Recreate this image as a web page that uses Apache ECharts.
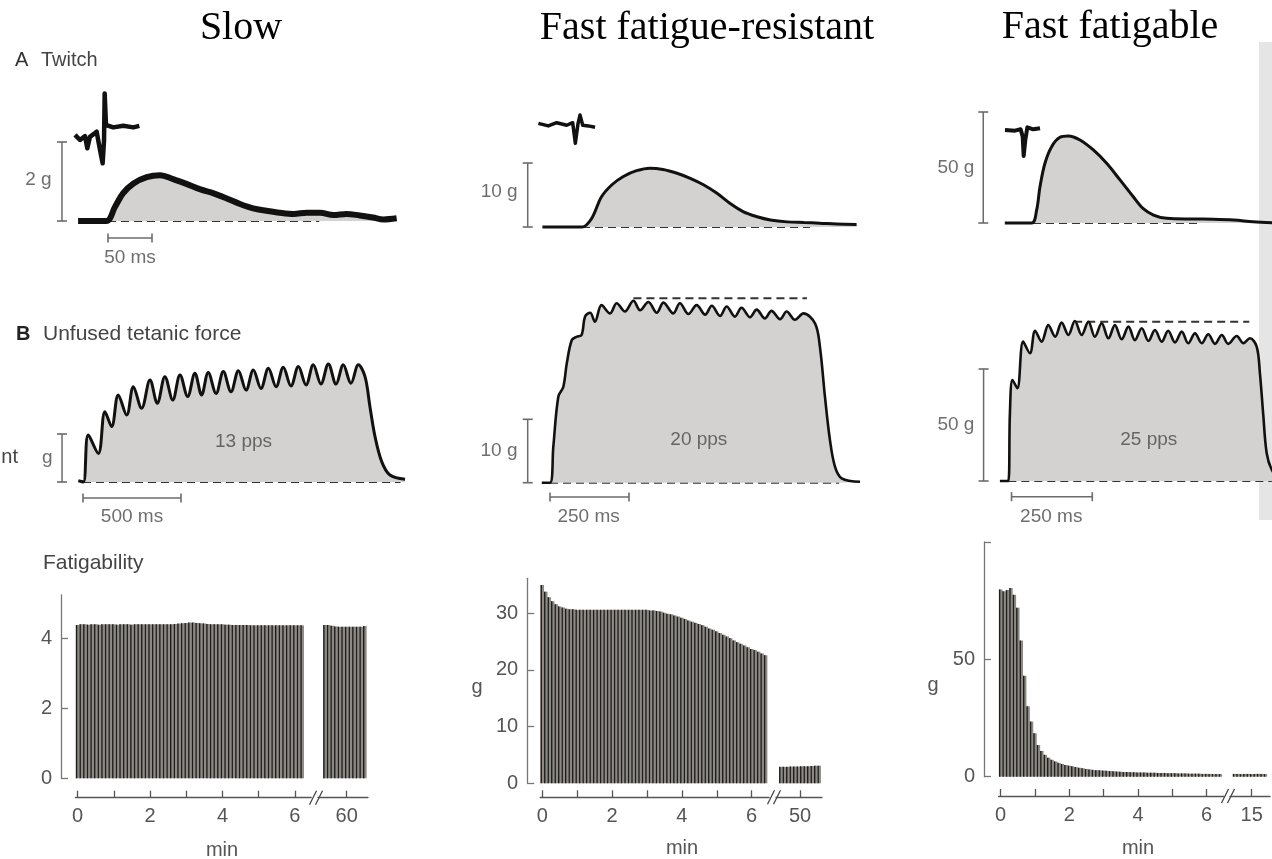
<!DOCTYPE html>
<html>
<head>
<meta charset="utf-8">
<title>Motor unit types</title>
<script src="https://cdn.jsdelivr.net/npm/echarts@6/dist/echarts.min.js"></script>
<style>
  html, body { margin: 0; padding: 0; background: #fff; }
  #main { width: 1272px; height: 859px; }
</style>
</head>
<body>
<div id="main"></div>
<script>
var SANS = '"Liberation Sans", Arial, sans-serif';
var SERIF = '"Liberation Serif", "Times New Roman", serif';

// text
var columnTitles = ['Slow', 'Fast fatigue-resistant', 'Fast fatigable'];
var rateLabels = ['13 pps', '20 pps', '25 pps'];
var twitchScale = ['2 g', '10 g', '50 g'];
var tetanusScale = ['g', '10 g', '50 g'];
var timeLabels = ['50 ms', '500 ms', '250 ms', '250 ms'];

// A - twitch force, [ms, g]
var twitchSlow = [[-34,0],[-2,0],[8,0.36],[17,0.70],[29,0.95],[44,1.11],[59,1.16],[74,1.06],[89,0.94],[105,0.80],[120,0.70],[135,0.57],[150,0.43],[165,0.32],[180,0.26],[195,0.21],[211,0.18],[226,0.21],[241,0.21],[256,0.15],[271,0.18],[286,0.14],[301,0.09],[313,0.04],[328,0.07]];
var twitchFR = [[-45,0],[0,0],[11,1.35],[22,4.7],[34,6.6],[47,7.9],[62,8.8],[77,9.2],[92,9.0],[108,8.4],[123,7.6],[138,6.6],[153,5.3],[168,3.7],[183,2.4],[199,1.6],[214,1.1],[233,0.8],[252,0.7],[270,0.6],[289,0.45],[312,0.4]];
var twitchFF = [[-32,0],[-1.5,0],[4.2,5.9],[8,16.4],[13.6,26.9],[21.2,34.4],[30.7,38.6],[40.2,39.2],[53.4,37.4],[68.6,32.9],[83.7,26.9],[98.9,19.4],[114,11.8],[125,6.6],[137,3.6],[152,2.1],[182,1.8],[205,1.7],[228,1.35],[250,0.6],[272,0.1]];

// action potential insets (same axes as the twitch)
var spikeSlow = [[-37.5,2.18],[-31.8,2.05],[-26.1,2.15],[-23.5,1.84],[-20.5,2.13],[-12.9,2.26],[-9.1,1.80],[-6.1,1.46],[-4.5,2.05],[-3.8,3.23],[-2.3,2.43],[6,2.37],[17.4,2.41],[28.8,2.37],[35.6,2.41]];
var spikeFR = [[-49.6,16.2],[-38.3,15.8],[-28.8,16.3],[-17.4,15.9],[-10.6,16.3],[-7.6,13.1],[-4.5,16.2],[-2.3,17.5],[0.8,15.9],[7.2,15.8],[14.8,15.6]];
var spikeFF = [[-31.8,41.9],[-20.5,41.6],[-14,42.2],[-11.7,38.9],[-10.6,30.2],[-8.7,37.4],[-6.4,43.1],[0.4,42.2],[8,42.7]];

// B - unfused tetanus, [ms, g]
var tetSlow = [[-24,0.05],[2,0],[27,1.96],[78,1.19],[112,2.93],[146,2.31],[180,3.63],[223,2.79],[257,3.97],[299,3.07],[342,4.25],[379,3.28],[418,4.39],[458,3.42],[495,4.46],[534,3.56],[571,4.53],[605,3.63],[639,4.56],[679,3.69],[716,4.60],[755,3.76],[793,4.64],[832,3.83],[869,4.67],[908,3.90],[946,4.74],[985,3.97],[1022,4.78],[1061,4.00],[1099,4.81],[1138,4.04],[1175,4.88],[1214,4.08],[1252,4.92],[1291,4.08],[1328,4.88],[1367,4.11],[1405,4.88],[1439,4.39],[1464,3.14],[1490,1.89],[1524,0.85],[1566,0.29],[1643,0.11]];
var tetFR = [[-26,0],[0,0],[10.5,5.7],[26.4,13.6],[42,15.1],[53,18.8],[69,22.5],[84,23.0],[100,23.3],[111,26.2],[127,26.8],[142,25.4],[163,28.0],[190,26.7],[211,28.3],[237,27.0],[264,28.7],[285,27.2],[311,28.5],[338,26.8],[359,28.4],[390,26.7],[411,28.3],[438,26.6],[464,28.0],[491,26.5],[512,27.9],[538,26.3],[559,27.8],[585,26.2],[606,27.6],[633,26.1],[654,27.3],[680,25.9],[701,27.1],[728,25.8],[749,27.0],[775,25.7],[802,26.7],[839,25.1],[854,21.5],[870,13.6],[886,6.7],[902,2.5],[923,0.7],[981,0.16]];
var tetFF = [[-26,0],[0,0],[5,30.2],[13,45.1],[28,41.4],[46,62.2],[67,57.0],[83,67.1],[103,62.2],[124,69.6],[145,64.4],[165,70.7],[186,65.2],[206,71.4],[227,65.2],[248,71.1],[268,64.4],[289,70.4],[310,63.7],[330,69.6],[351,63.3],[372,68.9],[392,62.9],[413,68.2],[434,62.5],[454,67.4],[475,62.2],[495,67.1],[516,61.9],[537,66.7],[557,61.5],[578,65.9],[599,61.5],[619,65.5],[640,61.2],[661,65.2],[681,61.2],[707,64.7],[728,61.5],[748,63.7],[769,60.0],[779,48.1],[789,30.2],[800,12.4],[816,4.9],[840,1.0]];

// dashed reference lines
var baseTwitch = [[[0,0],[240,0]], [[0,0],[259,0]], [[0,0],[189,0]]];
var baseTetanus = [[[0,0],[1620,0]], [[0,0],[915,0]], [[0,0],[816,0]]];
var peakTetanus = [null, [[264,29.1],[813,29.1]], [[204,71.1],[746,71.1]]];

// scale bars
var twitchForceBar = [[[-52.3,0],[-52.3,2]], [[-61.7,0],[-61.7,10]], [[-56.5,0],[-56.5,50]]];
var tetanusForceBar = [[[-107,0],[-107,2]], [[-70.6,0],[-70.6,10]], [[-76.5,0],[-76.5,50]]];
var twitchTimeBar = [[0,-0.43],[50,-0.43]];
var tetanusTimeBar = [[[0,-0.667],[500,-0.667]], [[0,-2.26],[250,-2.26]], [[10,-7.0],[260,-7.0]]];

// C - fatigability, force of each tetanus (one every 0.1 min)
var step = 0.1;
var fatSlow1 = [4.38,4.40,4.40,4.39,4.40,4.40,4.39,4.40,4.40,4.40,
  4.40,4.39,4.40,4.40,4.40,4.39,4.40,4.40,4.40,4.40,
  4.40,4.40,4.40,4.40,4.40,4.40,4.40,4.41,4.42,4.43,
  4.44,4.45,4.45,4.44,4.43,4.42,4.41,4.40,4.40,4.40,
  4.40,4.39,4.39,4.38,4.38,4.38,4.38,4.38,4.37,4.37,
  4.37,4.37,4.37,4.37,4.37,4.37,4.37,4.37,4.37,4.37,
  4.37,4.37,4.37];
var fatSlow2 = [4.38,4.38,4.36,4.34,4.33,4.33,4.33,4.33,4.33,4.33,4.33,4.35];
var fatFR1 = [35.0,33.8,32.8,32.1,31.6,31.2,31.0,30.8,30.7,30.7,
  30.6,30.6,30.6,30.6,30.6,30.6,30.6,30.6,30.6,30.6,
  30.6,30.6,30.6,30.6,30.6,30.6,30.6,30.6,30.6,30.6,
  30.6,30.5,30.5,30.4,30.3,30.1,29.9,29.8,29.6,29.4,
  29.2,29.0,28.7,28.5,28.3,28.1,27.9,27.6,27.3,27.1,
  26.8,26.5,26.2,25.9,25.6,25.2,24.9,24.6,24.3,24.0,
  23.7,23.5,23.2,22.9,22.6];
var fatFR2 = [3.8,3.8,3.8,3.85,3.85,3.85,3.9,3.9,3.9,3.95,4.0,4.0];
var fatFR2Base = 0.9;
var fatFF1 = [79.8,79.0,79.5,80.4,77.5,72.0,58.0,43.0,30.0,23.5,
  18.5,13.5,11.0,9.3,8.1,7.2,6.5,5.9,5.4,5.0,
  4.7,4.4,4.1,3.8,3.6,3.3,3.1,2.9,2.8,2.7,
  2.6,2.5,2.4,2.3,2.2,2.1,2.0,2.0,1.9,1.9,
  1.8,1.8,1.8,1.7,1.7,1.7,1.6,1.6,1.6,1.5,
  1.5,1.5,1.4,1.4,1.4,1.3,1.3,1.3,1.3,1.2,
  1.2,1.2,1.1,1.1,1.1];
var fatFF2 = [1.2,1.2,1.1,1.2,1.2,1.1,1.2,1.2,1.2,1.1];
var blockStart = {slow: [0, 59.4], fr: [0, 49.45], ff: [0, 14.5]};

// x / y axis ticks for the fatigue panels
var minTicks = [0,1,2,3,4,5,6];
var minLabels = [0,2,4,6];
var lateTick = [60, 50, 15];
var forceTicks = [[0,2,4], [0,10,20,30], [0,50,100]];
var forceLabels = [[0,2,4], [0,10,20,30], [0,50]];

// ---- layout ----
var grids = [
  {left:20, top:85, width:380, height:180},    // 0 A slow
  {left:470, top:95, width:390, height:170},   // 1 A FR
  {left:900, top:95, width:372, height:170},   // 2 A FF
  {left:20, top:300, width:392, height:230},   // 3 B slow
  {left:470, top:285, width:390, height:245},  // 4 B FR
  {left:900, top:285, width:372, height:245},  // 5 B FF
  {left:75.5, top:595, width:235.7, height:183.3}, // 6 C slow
  {left:318, top:595, width:50, height:183.3},     // 7 C slow late
  {left:540.2, top:578.3, width:228.9, height:205},// 8 C FR
  {left:776, top:578.3, width:46, height:205},     // 9 C FR late
  {left:998.6, top:542, width:225.2, height:234.7},// 10 C FF
  {left:1230, top:542, width:40, height:234.7}     // 11 C FF late
];
var xRange = [[-100,331.8],[-127.3,315.9],[-151.1,271.6],[-321.4,1678.6],[-253.2,981],[-335.3,816.4],
  [-0.06,6.45],[59.207,60.588],[-0.06,6.5],[49.312,50.63],[-0.06,6.5],[14.368,15.533]];
var yRange = [[-1.114,3.443],[-5.94,20.63],[-18.92,57.66],[-2.0,7.583],[-7.46,31.18],[-21.87,87.5],
  [0,5.237],[0,5.237],[0,36.16],[0,36.16],[0,100],[0,100]];

var axisGray = '#555';
var xAxes = [], yAxes = [];
grids.forEach(function (g, i) {
  xAxes.push({type:'value', gridIndex:i, min:xRange[i][0], max:xRange[i][1], show:false, splitLine:{show:false}});
  yAxes.push({type:'value', gridIndex:i, min:yRange[i][0], max:yRange[i][1], show:false, splitLine:{show:false}});
});

// visible axes of the fatigue panels
function fatX(i, ticks, labels, offset) {
  xAxes[i] = {type:'value', gridIndex:i, min:xRange[i][0], max:xRange[i][1], offset:offset,
    splitLine:{show:false},
    axisLine:{show:true, onZero:false, lineStyle:{color:axisGray, width:1.3}},
    axisTick:{show:true, inside:true, length:7, customValues:ticks, lineStyle:{color:axisGray, width:1.3}},
    axisLabel:{show:true, customValues:labels, margin:9, color:axisGray, fontSize:20, fontFamily:SANS}};
}
function fatY(i, ticks, labels, offset) {
  yAxes[i] = {type:'value', gridIndex:i, min:yRange[i][0], max:yRange[i][1], offset:offset,
    splitLine:{show:false},
    axisLine:{show:true, onZero:false, lineStyle:{color:'#777', width:1.3}},
    axisTick:{show:true, inside:true, length:7, customValues:ticks, lineStyle:{color:'#777', width:1.3}},
    axisLabel:{show:true, customValues:labels, margin:9, color:axisGray, fontSize:20, fontFamily:SANS}};
}
fatX(6, minTicks, minLabels, 19.4); fatX(7, [lateTick[0]], [lateTick[0]], 19.4);
fatX(8, minTicks, minLabels, 14);   fatX(9, [lateTick[1]], [lateTick[1]], 14);
fatX(10, minTicks, minLabels, 19.3); fatX(11, [lateTick[2]], [lateTick[2]], 19.3);
fatY(6, forceTicks[0], forceLabels[0], 14.5);
fatY(8, forceTicks[1], forceLabels[1], 13);
fatY(10, forceTicks[2], forceLabels[2], 14.6);

// ---- series helpers ----
function trace(gi, data, width, fill) {
  var s = {type:'line', xAxisIndex:gi, yAxisIndex:gi, data:data, smooth:0.35, symbol:'none',
    lineStyle:{color:'#111', width:width}, z:4};
  if (fill) s.areaStyle = {color:'#d4d2d0', opacity:1, origin:0};
  return s;
}
function spike(gi, data, width) {
  return {type:'line', xAxisIndex:gi, yAxisIndex:gi, data:data, symbol:'none',
    lineStyle:{color:'#111', width:width, join:'round'}, z:4};
}
function dashed(gi, data) {
  return {type:'line', xAxisIndex:gi, yAxisIndex:gi, data:data, symbol:'none',
    lineStyle:{color:'#333', width:2, type:[8,5]}, z:3};
}
function scaleBar(gi, data, vertical) {
  return {type:'line', xAxisIndex:gi, yAxisIndex:gi, data:data, symbol:'rect',
    symbolSize: vertical ? [10,1.6] : [1.6,9],
    itemStyle:{color:'#6b6b6b'}, lineStyle:{color:'#6b6b6b', width:1.5}, z:3};
}
function textAt(gi, pt, txt, pos) {
  return {type:'scatter', xAxisIndex:gi, yAxisIndex:gi, data:[pt], symbolSize:1,
    itemStyle:{color:'rgba(0,0,0,0)'},
    label:{show:true, position:pos, distance:4, formatter:txt, color:'#4a4a4a', fontSize:19, fontFamily:SANS}, z:6};
}
function pairs(t0, vals) {
  return vals.map(function (v, i) { return [+(t0 + i * step).toFixed(2), v]; });
}
function bars(gi, t0, vals, pxPerMin, base) {
  var wide = pxPerMin * step;
  var out = [];
  var tops = base ? vals.map(function (v) { return v - base; }) : vals;
  var baseVals = base ? vals.map(function () { return base; }) : null;
  [['n' + gi, 1.4, '#1e1e1e', 5], ['w' + gi, wide, '#8e8983', 4]].forEach(function (b) {
    if (baseVals) {
      out.push({type:'bar', xAxisIndex:gi, yAxisIndex:gi, stack:b[0], barWidth:b[1], barGap:'-100%',
        data:pairs(t0, baseVals), itemStyle:{color:'rgba(0,0,0,0)'}, z:b[3]});
    }
    out.push({type:'bar', xAxisIndex:gi, yAxisIndex:gi, stack: baseVals ? b[0] : null, barWidth:b[1], barGap:'-100%',
      data:pairs(t0, tops), itemStyle:{color:b[2]}, z:b[3]});
  });
  return out;
}

var series = [];
// A
series.push(trace(0, twitchSlow, 6, true), dashed(0, baseTwitch[0]), spike(0, spikeSlow, 4.5),
  scaleBar(0, twitchForceBar[0], true), scaleBar(0, twitchTimeBar, false),
  textAt(0, [-59, 1.04], twitchScale[0], 'left'), textAt(0, [25, -0.94], timeLabels[0], 'inside'));
series.push(trace(1, twitchFR, 3, true), dashed(1, baseTwitch[1]), spike(1, spikeFR, 3.5),
  scaleBar(1, twitchForceBar[1], true), textAt(1, [-68, 5.5], twitchScale[1], 'left'));
series.push(trace(2, twitchFF, 3, true), dashed(2, baseTwitch[2]), spike(2, spikeFF, 4),
  scaleBar(2, twitchForceBar[2], true), textAt(2, [-61.4, 24.8], twitchScale[2], 'left'));
// B
series.push(trace(3, tetSlow, 3, true), dashed(3, baseTetanus[0]),
  scaleBar(3, tetanusForceBar[0], true), scaleBar(3, tetanusTimeBar[0], false),
  textAt(3, [-132.7, 1.0], tetanusScale[0], 'left'), textAt(3, [250, -1.46], timeLabels[1], 'inside'),
  textAt(3, [819, 1.68], rateLabels[0], 'inside'));
series.push(trace(4, tetFR, 2.6, true), dashed(4, baseTetanus[1]), dashed(4, peakTetanus[1]),
  scaleBar(4, tetanusForceBar[1], true), scaleBar(4, tetanusTimeBar[1], false),
  textAt(4, [-88.6, 5.0], tetanusScale[1], 'left'), textAt(4, [122, -5.43], timeLabels[2], 'inside'),
  textAt(4, [471, 6.74], rateLabels[1], 'inside'));
series.push(trace(5, tetFF, 2.6, true), dashed(5, baseTetanus[2]), dashed(5, peakTetanus[2]),
  scaleBar(5, tetanusForceBar[2], true), scaleBar(5, tetanusTimeBar[2], false),
  textAt(5, [-91, 25], tetanusScale[2], 'left'), textAt(5, [133, -16.1], timeLabels[3], 'inside'),
  textAt(5, [435, 18.6], rateLabels[2], 'inside'));
// C
series = series.concat(
  bars(6, blockStart.slow[0], fatSlow1, 36.2), bars(7, blockStart.slow[1], fatSlow2, 36.2),
  bars(8, blockStart.fr[0], fatFR1, 34.9), bars(9, blockStart.fr[1], fatFR2, 34.9, fatFR2Base),
  bars(10, blockStart.ff[0], fatFF1, 34.33), bars(11, blockStart.ff[1], fatFF2, 34.33));

// ---- static text and decorations ----
function txt(x, y, s, size, font, align, color, weight) {
  return {type:'text', x:x, y:y, z:10, silent:true,
    style:{text:s, font:(weight || 'normal') + ' ' + size + 'px ' + font, fill:color || '#333',
      textAlign:align || 'left', align:align || 'left', textVerticalAlign:'middle', verticalAlign:'middle'}};
}
function breakMark(x, y) {
  return {type:'line', z:10, silent:true, shape:{x1:x - 3.5, y1:y + 7, x2:x + 3.5, y2:y - 7},
    style:{stroke:'#444', lineWidth:1.3}};
}
var graphics = [
  {type:'rect', z:0, silent:true, shape:{x:1259, y:42, width:13, height:478}, style:{fill:'rgba(190,190,190,0.4)'}},
  txt(241, 28, columnTitles[0], 40, SERIF, 'center', '#000'),
  txt(707, 28, columnTitles[1], 40, SERIF, 'center', '#000'),
  txt(1110, 27, columnTitles[2], 40, SERIF, 'center', '#000'),
  txt(15, 60, 'A', 20, SANS, 'left', '#333'),
  txt(41, 60, 'Twitch', 20, SANS, 'left', '#444'),
  txt(16, 334, 'B', 20, SANS, 'left', '#222', 'bold'),
  txt(43, 334, 'Unfused tetanic force', 21, SANS, 'left', '#444'),
  txt(43, 563, 'Fatigability', 21, SANS, 'left', '#444'),
  txt(18, 457, 'nt', 20, SANS, 'right', '#444'),
  txt(477, 687, 'g', 20, SANS, 'center', '#555'),
  txt(933, 685, 'g', 20, SANS, 'center', '#555'),
  txt(222, 850, 'min', 20, SANS, 'center', '#555'),
  txt(682, 848, 'min', 20, SANS, 'center', '#555'),
  txt(1138, 848, 'min', 20, SANS, 'center', '#555'),
  breakMark(313, 797.7), breakMark(319, 797.7),
  breakMark(771, 797.3), breakMark(777, 797.3),
  breakMark(1225, 796), breakMark(1231, 796)
];

var chart = echarts.init(document.getElementById('main'), null, {renderer:'canvas'});
chart.setOption({
  animation:false,
  backgroundColor:'#fff',
  grid:grids,
  xAxis:xAxes,
  yAxis:yAxes,
  series:series,
  graphic:graphics
});
</script>
</body>
</html>
